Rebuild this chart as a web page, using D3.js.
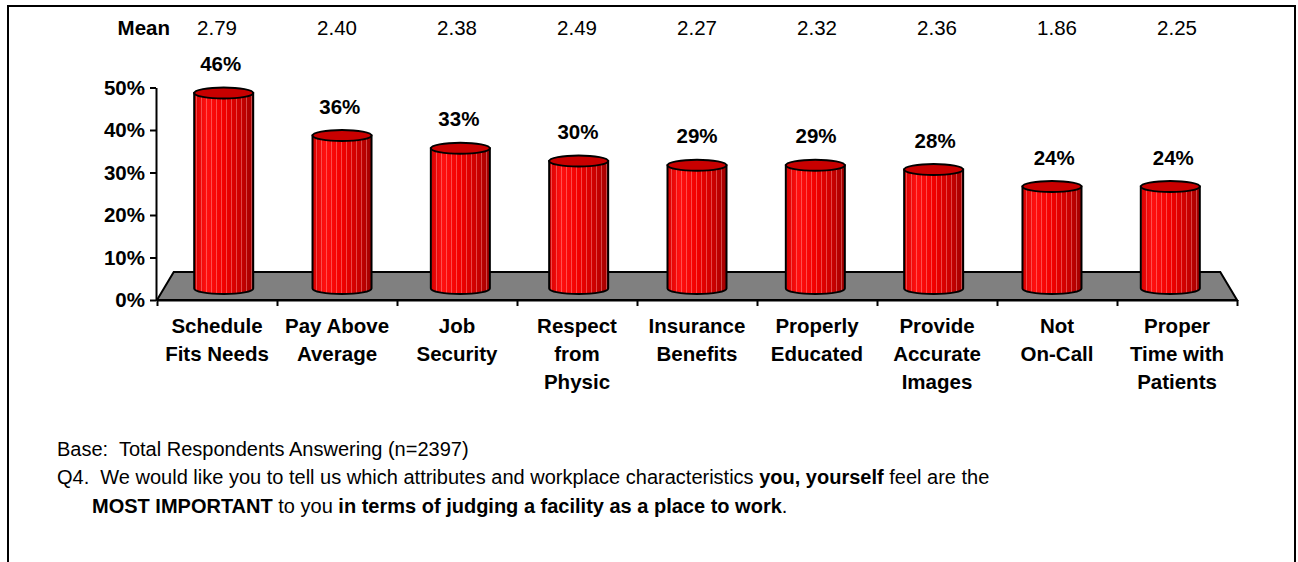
<!DOCTYPE html>
<html>
<head>
<meta charset="utf-8">
<script src="https://cdn.jsdelivr.net/npm/d3@7"></script>
<style>
  html, body { margin: 0; padding: 0; background: #fff; }
  svg { display: block; }
  text { font-family: "Liberation Sans", Arial, sans-serif; fill: #000; }
</style>
</head>
<body>
<svg id="chart" width="1298" height="562"></svg>
<script>
// Attribute labels (line breaks split with "\n")
const categories = [
  "Schedule\nFits Needs",
  "Pay Above\nAverage",
  "Job\nSecurity",
  "Respect\nfrom\nPhysic",
  "Insurance\nBenefits",
  "Properly\nEducated",
  "Provide\nAccurate\nImages",
  "Not\nOn-Call",
  "Proper\nTime with\nPatients"
];
// Share of respondents naming each attribute most important (%)
const values = [46, 36, 33, 30, 29, 29, 28, 24, 24];
// Mean importance rating per attribute
const means = [2.79, 2.40, 2.38, 2.49, 2.27, 2.32, 2.36, 1.86, 2.25];
// Value axis ticks (%)
const yTicks = [0, 10, 20, 30, 40, 50];

const svg = d3.select("#chart");
const font = '"Liberation Sans", Arial, sans-serif';
const fs = 20.5;

// Outer frame
svg.append("rect")
  .attr("x", 8).attr("y", 6)
  .attr("width", 1287).attr("height", 620)
  .attr("fill", "none").attr("stroke", "#000").attr("stroke-width", 2);

// Scales
const x = d3.scaleBand().domain(categories).range([157, 1237]).padding(0);
const y = d3.scaleLinear().domain([0, 50]).range([300, 87.5]);
const xEdge = d3.scaleLinear().domain([0, categories.length]).range([157, 1237]);
const xMid = d => x(d) + x.bandwidth() / 2;

// Simple perspective: depth d in [0,1] pulls toward the centre and up
const vanishX = 697, depthX = 0.031, depthY = 28;
const px = (xv, d) => xv + (vanishX - xv) * depthX * d;
const py = (yv, d) => y(yv) - depthY * d;

// Gradients and stripe texture
const defs = svg.append("defs");
const grad = defs.append("linearGradient").attr("id", "cylGrad")
  .attr("x1", "0%").attr("x2", "100%").attr("y1", "0%").attr("y2", "0%");
[[0, "#d60000"], [0.2, "#ff1010"], [0.5, "#f20000"], [0.8, "#c80000"], [1, "#a00000"]]
  .forEach(([o, c]) => grad.append("stop").attr("offset", o).attr("stop-color", c));

const pat = defs.append("pattern").attr("id", "stripes")
  .attr("patternUnits", "userSpaceOnUse").attr("width", 5).attr("height", 10);
pat.append("rect").attr("x", 1).attr("y", 0).attr("width", 0.9).attr("height", 10)
  .attr("fill", "#ffb0b0").attr("opacity", 0.45);

// Floor
const floorPts = [
  [px(157, 0), py(0, 0)], [px(157, 1), py(0, 1)],
  [px(1237, 1), py(0, 1)], [px(1237, 0), py(0, 0)]
];
svg.append("polygon")
  .attr("points", floorPts.map(p => p.join(",")).join(" "))
  .attr("fill", "#808080").attr("stroke", "#000").attr("stroke-width", 2)
  .attr("stroke-linejoin", "miter");

// Value axis
const yAxis = svg.append("g").attr("transform", "translate(156,0)")
  .call(d3.axisLeft(y).tickValues(yTicks).tickFormat(d => d + "%").tickSize(6).tickSizeOuter(0).tickPadding(5));
yAxis.select(".domain").attr("stroke", "#000").attr("stroke-width", 2);
yAxis.selectAll(".tick line").attr("stroke", "#000").attr("stroke-width", 2);
yAxis.selectAll(".tick text")
  .attr("font-family", font).attr("font-size", fs).attr("font-weight", "bold").attr("fill", "#000");

// Category axis (ticks at category boundaries)
const xAxis = svg.append("g").attr("transform", "translate(0,300)")
  .call(d3.axisBottom(xEdge).tickValues(d3.range(categories.length + 1)).tickFormat("").tickSize(6).tickSizeOuter(0));
xAxis.select(".domain").attr("stroke", "#000").attr("stroke-width", 2);
xAxis.selectAll(".tick line").attr("stroke", "#000").attr("stroke-width", 2);

// Category labels
svg.append("g").selectAll("text").data(categories).join("text")
  .attr("x", d => xMid(d))
  .attr("y", 333)
  .attr("text-anchor", "middle")
  .attr("font-family", font).attr("font-size", fs).attr("font-weight", "bold")
  .each(function (d) {
    const t = d3.select(this);
    d.split("\n").forEach((line, i) => {
      t.append("tspan").attr("x", xMid(d)).attr("dy", i === 0 ? 0 : 28).text(line);
    });
  });

// Cylinders
const rx = 29.5, ry = 5.5, midX = 0.45, baseLift = 11.5;
const cylX = i => px(xMid(categories[i]), midX);
const cylY = v => y(v) - baseLift;
const cyl = svg.append("g").selectAll("g").data(values).join("g");
cyl.each(function (v, i) {
  const g = d3.select(this);
  const xc = cylX(i);
  const yb = cylY(0), yt = cylY(v);
  const body = `M${xc - rx},${yt} L${xc - rx},${yb} A${rx},${ry} 0 0 0 ${xc + rx},${yb} L${xc + rx},${yt} Z`;
  g.append("path").attr("d", body).attr("fill", "url(#cylGrad)");
  g.append("path").attr("d", body).attr("fill", "url(#stripes)");
  g.append("path").attr("d", body).attr("fill", "none").attr("stroke", "#000").attr("stroke-width", 2);
  g.append("ellipse").attr("cx", xc).attr("cy", yt).attr("rx", rx).attr("ry", ry)
    .attr("fill", "#c80000").attr("stroke", "#000").attr("stroke-width", 2);
});

// Value labels above cylinders
svg.append("g").selectAll("text").data(values).join("text")
  .attr("x", (v, i) => px(xMid(categories[i]), 0.25))
  .attr("y", v => cylY(v) - 22)
  .attr("text-anchor", "middle")
  .attr("font-family", font).attr("font-size", fs).attr("font-weight", "bold")
  .text(v => v + "%");

// Mean row
svg.append("text").attr("x", 170).attr("y", 35).attr("text-anchor", "end")
  .attr("font-family", font).attr("font-size", fs).attr("font-weight", "bold").text("Mean");
svg.append("g").selectAll("text").data(means).join("text")
  .attr("x", (m, i) => xMid(categories[i]))
  .attr("y", 35)
  .attr("text-anchor", "middle")
  .attr("font-family", font).attr("font-size", fs)
  .text(m => m.toFixed(2));

// Footnotes
const note = svg.append("g").attr("font-family", font).attr("font-size", 20);
note.append("text").attr("x", 57).attr("y", 456).attr("xml:space", "preserve")
  .text("Base:  Total Respondents Answering (n=2397)");
const q1 = note.append("text").attr("x", 57).attr("y", 484).attr("xml:space", "preserve");
[["Q4.  We would like you to tell us which attributes and workplace characteristics ", false],
 ["you, yourself", true], [" feel are the", false]]
  .forEach(([t, b]) => q1.append("tspan").attr("font-weight", b ? "bold" : "normal").text(t));
const q2 = note.append("text").attr("x", 92).attr("y", 513).attr("xml:space", "preserve");
[["MOST IMPORTANT", true], [" to you ", false], ["in terms of judging a facility as a place to work", true], [".", false]]
  .forEach(([t, b]) => q2.append("tspan").attr("font-weight", b ? "bold" : "normal").text(t));
</script>
</body>
</html>
